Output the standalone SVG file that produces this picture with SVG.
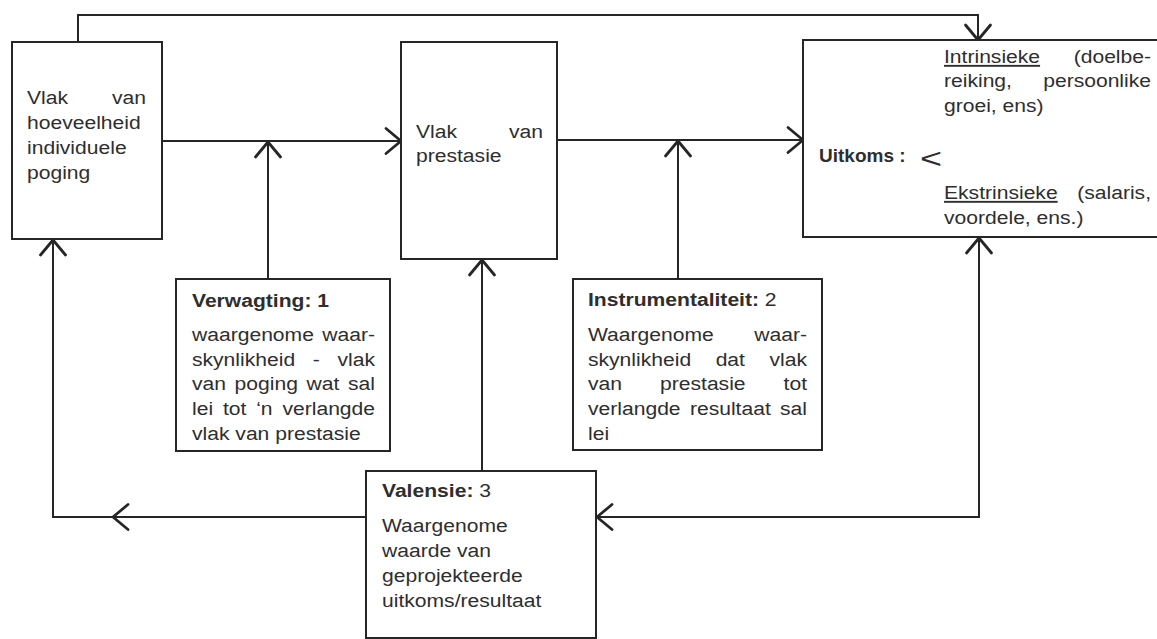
<svg xmlns="http://www.w3.org/2000/svg" width="1157" height="639" viewBox="0 0 1157 639">
<defs>
<style>
.t{font-family:"Liberation Sans",Arial,sans-serif;font-size:19px;fill:#2e2e2e}
.b{font-weight:bold}
.e{text-anchor:end}
.u{text-decoration:underline}
.box{fill:#fff;stroke:#262626;stroke-width:2}
.ln{fill:none;stroke:#262626;stroke-width:2}
.chev{fill:none;stroke:#262626;stroke-width:2.8;stroke-linecap:round;stroke-linejoin:round}
</style>
<marker id="ah" viewBox="-18 -15 22 30" refX="0" refY="0" markerWidth="22" markerHeight="30" markerUnits="userSpaceOnUse" orient="auto-start-reverse">
<path class="chev" d="M-15,-12.5 L0,0 L-15,12.5"/>
</marker>
</defs>
<rect width="1157" height="639" fill="#fff"/>

<g id="connectors">
<path class="ln" d="M78,42 V15 H978 V40" marker-end="url(#ah)"/>
<path class="ln" d="M162,141 H401" marker-end="url(#ah)"/>
<path class="ln" d="M557,140 H803" marker-end="url(#ah)"/>
<path class="ln" d="M268,279 V142" marker-end="url(#ah)"/>
<path class="ln" d="M678,279 V141" marker-end="url(#ah)"/>
<path class="ln" d="M482,471 V260" marker-end="url(#ah)"/>
<path class="ln" d="M366,517 H53 V240" marker-end="url(#ah)"/>
<path class="chev" d="M128,504.5 L113,517 L128,529.5"/>
<path class="ln" d="M979,238 V517 H597" marker-start="url(#ah)" marker-end="url(#ah)"/>
</g>

<g id="n-effort">
<rect class="box" x="12" y="42" width="150" height="197"/>
<g transform="translate(27,0) scale(1.11,1)">
<text class="t" x="0" y="104">Vlak</text>
<text class="t e" x="107.2" y="104">van</text>
<text class="t" x="0" y="129">hoeveelheid</text>
<text class="t" x="0" y="154">individuele</text>
<text class="t" x="0" y="179">poging</text>
</g>
</g>

<g id="n-performance">
<rect class="box" x="401" y="42" width="156" height="217"/>
<g transform="translate(416,0) scale(1.11,1)">
<text class="t" x="0" y="138">Vlak</text>
<text class="t e" x="114.4" y="138">van</text>
<text class="t" x="0" y="162">prestasie</text>
</g>
</g>

<g id="n-outcome">
<rect class="box" x="803" y="40" width="362" height="197"/>
<g transform="translate(944,0) scale(1.11,1)">
<text class="t u" x="0" y="63">Intrinsieke</text>
<text class="t e" x="186.5" y="63">(doelbe-</text>
<text class="t" x="0" y="87">reiking,</text>
<text class="t e" x="186.5" y="87">persoonlike</text>
<text class="t" x="0" y="112">groei, ens)</text>
<text class="t u" x="0" y="199">Ekstrinsieke</text>
<text class="t e" x="186.5" y="199">(salaris,</text>
<text class="t" x="0" y="224">voordele, ens.)</text>
</g>
<text class="t b" x="819" y="162">Uitkoms :</text>
<g transform="translate(920,0) scale(1.4,1)">
<text class="t" x="0" y="168" style="font-size:27px">&lt;</text>
</g>
</g>

<g id="n-expectancy">
<rect class="box" x="176" y="279" width="214" height="172"/>
<g transform="translate(192,0) scale(1.11,1)">
<text class="t b" x="0" y="307">Verwagting: 1</text>
<text class="t" x="0" y="341">waargenome</text>
<text class="t e" x="164.9" y="341">waar-</text>
<text class="t" x="0" y="366">skynlikheid</text>
<text class="t" x="108.8" y="366">-</text>
<text class="t e" x="164.9" y="366">vlak</text>
<text class="t" x="0" y="390">van</text>
<text class="t" x="38.4" y="390">poging</text>
<text class="t" x="103.2" y="390">wat</text>
<text class="t e" x="164.9" y="390">sal</text>
<text class="t" x="0" y="415">lei</text>
<text class="t" x="27.9" y="415">tot</text>
<text class="t" x="57.8" y="415">‘n</text>
<text class="t e" x="164.9" y="415">verlangde</text>
<text class="t" x="0" y="440">vlak van prestasie</text>
</g>
</g>

<g id="n-instrumentality">
<rect class="box" x="573" y="279" width="249" height="171"/>
<g transform="translate(588,0) scale(1.11,1)">
<text class="t" x="0" y="306"><tspan class="b">Instrumentaliteit:</tspan> 2</text>
<text class="t" x="0" y="341">Waargenome</text>
<text class="t e" x="197.3" y="341">waar-</text>
<text class="t" x="0" y="366">skynlikheid</text>
<text class="t" x="115" y="366">dat</text>
<text class="t e" x="197.3" y="366">vlak</text>
<text class="t" x="0" y="390">van</text>
<text class="t" x="64.9" y="390">prestasie</text>
<text class="t e" x="197.3" y="390">tot</text>
<text class="t" x="0" y="415">verlangde</text>
<text class="t" x="91.8" y="415">resultaat</text>
<text class="t e" x="197.3" y="415">sal</text>
<text class="t" x="0" y="440">lei</text>
</g>
</g>

<g id="n-valence">
<rect class="box" x="366" y="471" width="230" height="167"/>
<g transform="translate(382,0) scale(1.11,1)">
<text class="t" x="0" y="497"><tspan class="b">Valensie:</tspan> 3</text>
<text class="t" x="0" y="532">Waargenome</text>
<text class="t" x="0" y="557">waarde van</text>
<text class="t" x="0" y="582">geprojekteerde</text>
<text class="t" x="0" y="607">uitkoms/resultaat</text>
</g>
</g>
</svg>
